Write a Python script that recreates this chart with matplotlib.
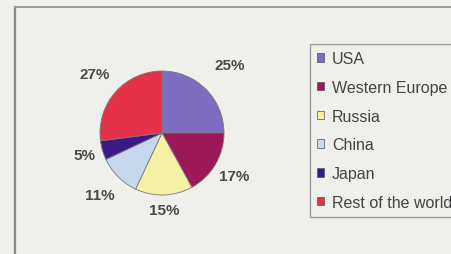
import numpy as np
import matplotlib.pyplot as plt
from matplotlib.patches import Patch

plt.rcParams['font.family'] = ['Liberation Sans', 'DejaVu Sans']

regions = ['USA', 'Western Europe', 'Russia', 'China', 'Japan', 'Rest of the world']
shares = [25, 17, 15, 11, 5, 27]
colors = ['#7d6cc2', '#9c1858', '#f6f0a2', '#c6d8ee', '#3a1a86', '#e63249']
# label distance from centre, in radii, per wedge
label_dist = [1.55, 1.35, 1.24, 1.42, 1.30, 1.44]

W, H = 452, 255
fig = plt.figure(figsize=(W / 100, H / 100), dpi=100)
fig.patch.set_facecolor('#efefeb')

# outer frame (runs off the right and bottom)
fig.add_artist(plt.Line2D([15 / W, 15 / W], [0, 1 - 8 / H], transform=fig.transFigure,
                          color='#8a8a88', lw=1.6))
fig.add_artist(plt.Line2D([15 / W, 1], [1 - 8 / H, 1 - 8 / H], transform=fig.transFigure,
                          color='#9a9a98', lw=1.4))

# pie: centre (162, 134), radius 62 px
r = 62
ax = fig.add_axes([(162 - r) / W, (H - 134 - r) / H, 2 * r / W, 2 * r / H])
wedges, _ = ax.pie(shares, colors=colors, startangle=90, counterclock=False,
                   wedgeprops=dict(edgecolor='#7a7a7a', linewidth=0.6))
ax.set_xlim(-1, 1)
ax.set_ylim(-1, 1)
ax.set_aspect('equal')

for w, s, d in zip(wedges, shares, label_dist):
    ang = np.deg2rad((w.theta1 + w.theta2) / 2)
    ax.text(d * np.cos(ang), d * np.sin(ang), '{}%'.format(s), ha='center', va='center',
            fontsize=11, fontweight='bold', color='#4a4a4a')

handles = [Patch(facecolor=c, edgecolor='#555555', linewidth=0.5) for c in colors]
leg = fig.legend(handles, regions, loc='upper left',
                 bbox_to_anchor=(310 / W, 1 - 45 / H), bbox_transform=fig.transFigure,
                 borderaxespad=0, fontsize=11.5, frameon=True, fancybox=False,
                 handlelength=0.44, handleheight=0.44, handletextpad=0.5,
                 labelspacing=0.86, borderpad=0.45)
leg.get_frame().set_edgecolor('#8a8a88')
leg.get_frame().set_facecolor('#efefeb')
leg.get_frame().set_linewidth(1.0)
for t in leg.get_texts():
    t.set_color('#444444')

fig.savefig('out.png', dpi=100, facecolor=fig.get_facecolor())
